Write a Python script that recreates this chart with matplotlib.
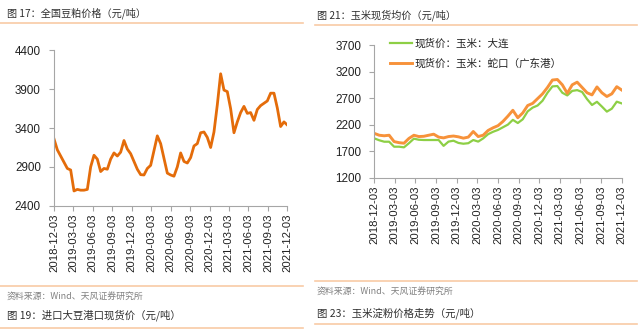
import matplotlib
matplotlib.use("Agg")
import matplotlib.pyplot as plt
import pandas as pd
from matplotlib.lines import Line2D

plt.rcParams['font.family'] = ['Noto Sans CJK SC', 'DejaVu Sans']

# ---------------- data ----------------
start, end = '2018-12-03', '2021-12-03'
tick_labels = ['2018-12-03', '2019-03-03', '2019-06-03', '2019-09-03', '2019-12-03',
               '2020-03-03', '2020-06-03', '2020-09-03', '2020-12-03', '2021-03-03',
               '2021-06-03', '2021-09-03', '2021-12-03']

soymeal = [3260, 3120, 3040, 2960, 2880, 2860, 2590, 2610, 2600, 2600, 2610, 2900,
           3050, 3000, 2840, 2880, 2870, 3000, 3080, 3040, 3090, 3240, 3130, 3070,
           2970, 2870, 2800, 2796, 2880, 2920, 3110, 3300, 3200, 3010, 2820, 2796,
           2780, 2900, 3080, 2970, 2950, 3020, 3170, 3200, 3340, 3350, 3280, 3150,
           3350, 3700, 4100, 3890, 3870, 3650, 3340, 3480, 3600, 3680, 3590, 3600,
           3500, 3640, 3690, 3720, 3750, 3850, 3850, 3660, 3420, 3480, 3440]

corn_shekou = [2035, 2000, 1990, 2000, 1880, 1860, 1850, 1940, 2000, 1975, 1980,
               2000, 2020, 1965, 1950, 1975, 1985, 1970, 1945, 1965, 2070, 1975,
               2000, 2090, 2140, 2180, 2260, 2360, 2470, 2330, 2420, 2560, 2600,
               2690, 2780, 2900, 3040, 3050, 2950, 2790, 2950, 3000, 2900, 2800,
               2760, 2910, 2800, 2730, 2780, 2915, 2852]

corn_dalian = [1941, 1905, 1878, 1878, 1784, 1784, 1772, 1850, 1935, 1915, 1910,
               1910, 1910, 1910, 1800, 1880, 1897, 1855, 1840, 1850, 1910, 1880,
               1940, 2020, 2065, 2100, 2150, 2200, 2290, 2230, 2300, 2450, 2520,
               2560, 2650, 2800, 2920, 2927, 2800, 2750, 2835, 2850, 2815, 2680,
               2570, 2630, 2540, 2445, 2500, 2632, 2600]

left_yticks = [2400, 2900, 3400, 3900, 4400]
right_yticks = [1200, 1700, 2200, 2700, 3200, 3700]

legend_labels = ['现货价：玉米：大连', '现货价：玉米：蛇口（广东港）']

# ---------------- figure ----------------
W, H = 640, 331
fig = plt.figure(figsize=(W / 100, H / 100), dpi=100)

def fx(px):
    return px / W

def fy(py):
    return 1 - py / H

sep_color = '#F8CBA6'
title_color = '#2E2E2E'
src_color = '#808080'
axis_color = '#A6A6A6'
tick_font = 'Liberation Sans'

def hline(x0, x1, y, lw=1.2):
    fig.add_artist(Line2D([fx(x0), fx(x1)], [fy(y), fy(y)], color=sep_color, lw=lw,
                          transform=fig.transFigure))

# separators
hline(0, 303, 23)
hline(0, 303, 285.5)
hline(0, 303, 327.5)
hline(315, 637, 24.5)
hline(315, 637, 281)
hline(315, 637, 324)

# titles
fig.text(fx(7), fy(13), '图 17：全国豆粕价格（元/吨）', fontsize=7.3, color=title_color, va='center', ha='left')
fig.text(fx(317), fy(15), '图 21：玉米现货均价（元/吨）', fontsize=7.3, color=title_color, va='center', ha='left')
fig.text(fx(7), fy(297.5), '资料来源：Wind、天风证券研究所', fontsize=6.4, color=src_color, va='center', ha='left')
fig.text(fx(7), fy(315), '图 19：进口大豆港口现货价（元/吨）', fontsize=7.5, color=title_color, va='center', ha='left')
fig.text(fx(317), fy(292), '资料来源：Wind、天风证券研究所', fontsize=6.4, color=src_color, va='center', ha='left')
fig.text(fx(317), fy(313), '图 23：玉米淀粉价格走势（元/吨）', fontsize=7.5, color=title_color, va='center', ha='left')

tick_dates = pd.to_datetime(tick_labels)

def style_axes(ax, yticks):
    for s in ['top', 'right']:
        ax.spines[s].set_visible(False)
    for s in ['left', 'bottom']:
        ax.spines[s].set_color(axis_color)
        ax.spines[s].set_linewidth(0.8)
    ax.set_xlim(pd.Timestamp(start), pd.Timestamp(end))
    ax.set_ylim(yticks[0], yticks[-1])
    ax.set_yticks(yticks)
    ax.set_xticks(tick_dates)
    ax.set_xticklabels(tick_labels, rotation=90, fontfamily=tick_font, fontsize=8.2, color='#222222')
    ax.set_yticklabels([str(v) for v in yticks], fontfamily=tick_font, fontsize=8.4, color='#222222')
    ax.tick_params(axis='both', color=axis_color, length=3.5, width=0.8, pad=2)
    ax.tick_params(axis='y', pad=6)
    ax.patch.set_alpha(0)

# left chart
axL = fig.add_axes([fx(54), fy(205.7), fx(287.3 - 54), (205.7 - 50.5) / H])
dL = pd.date_range(start, end, periods=len(soymeal))
axL.plot(dL, soymeal, color='#E46C0A', lw=2.0, solid_joinstyle='round')
style_axes(axL, left_yticks)

# right chart
axR = fig.add_axes([fx(374.3), fy(177.7), fx(621.7 - 374.3), (177.7 - 45) / H])
dR = pd.date_range(start, end, periods=len(corn_dalian))
axR.plot(dR, corn_dalian, color='#8DCF45', lw=1.6, label=legend_labels[0])
axR.plot(dR, corn_shekou, color='#F7923A', lw=2.1, label=legend_labels[1])
style_axes(axR, right_yticks)
leg = axR.legend(loc='upper left', bbox_to_anchor=(fx(390), fy(38)), bbox_transform=fig.transFigure,
                 frameon=False, fontsize=7.6, handlelength=2.1, handletextpad=0.2,
                 labelspacing=0.95, borderaxespad=0, borderpad=0)
for t in leg.get_texts():
    t.set_color('#222222')

fig.savefig('out.png', dpi=100)
